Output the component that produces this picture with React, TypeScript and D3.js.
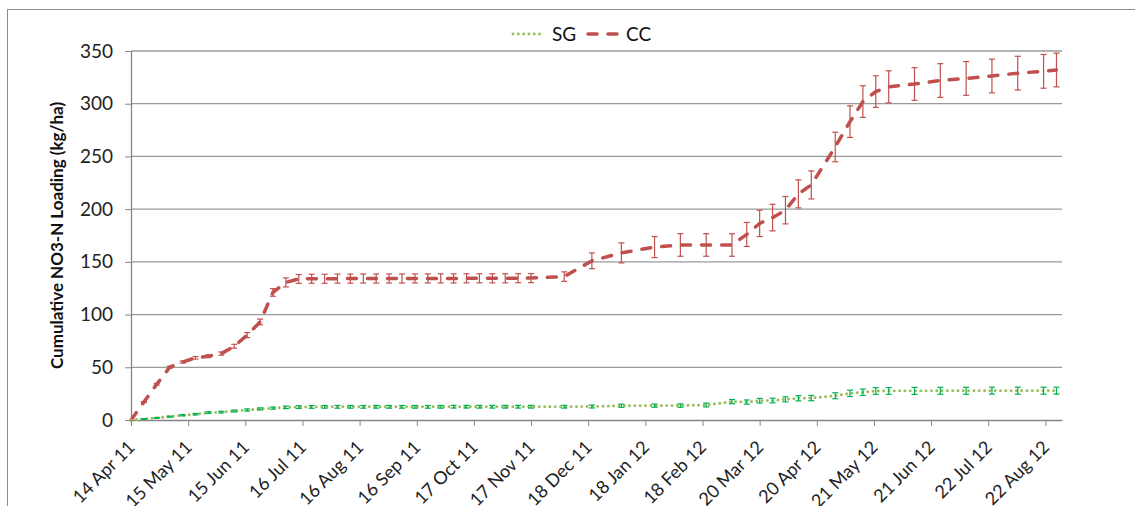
import React, { useEffect, useRef } from 'react'
import * as d3 from 'd3'

// sampling dates (weekly in 2011, sparser later)
const dates = [
  '2011-04-14', '2011-04-21', '2011-04-28', '2011-05-05', '2011-05-12', '2011-05-19', '2011-05-26',
  '2011-06-02', '2011-06-09', '2011-06-16', '2011-06-23', '2011-06-30', '2011-07-07', '2011-07-14',
  '2011-07-21', '2011-07-28', '2011-08-04', '2011-08-11', '2011-08-18', '2011-08-25', '2011-09-01',
  '2011-09-08', '2011-09-15', '2011-09-22', '2011-09-29', '2011-10-06', '2011-10-13', '2011-10-20',
  '2011-10-27', '2011-11-03', '2011-11-10', '2011-11-17', '2011-12-05', '2011-12-20', '2012-01-05',
  '2012-01-23', '2012-02-06', '2012-02-20', '2012-03-05', '2012-03-13', '2012-03-20', '2012-03-27',
  '2012-04-03', '2012-04-10', '2012-04-17', '2012-04-30', '2012-05-08', '2012-05-15', '2012-05-22',
  '2012-05-29', '2012-06-12', '2012-06-26', '2012-07-10', '2012-07-24', '2012-08-07', '2012-08-21',
  '2012-08-28'
]

const ccValues = [
  0, 17, 34, 50, 55, 59, 60.5,
  63, 70, 80.5, 93, 121, 130.5, 133.8,
  134, 134, 134.1, 134.1, 134.2, 134.2, 134.2,
  134.2, 134.3, 134.3, 134.3, 134.3, 134.4, 134.4,
  134.4, 134.4, 134.5, 134.6, 136, 151, 158.5,
  164, 166, 166, 166, 176, 186.5, 192,
  199, 214.5, 223, 259, 283, 302, 311.5,
  316, 318.7, 322, 324, 326.3, 329, 330.7,
  332
]

const ccErrors = [
  0, 0.5, 0.8, 1, 1, 1.2, 1.3,
  1.5, 1.8, 2.4, 2.7, 3.6, 4.3, 4.2,
  4.3, 4.3, 4.3, 4.3, 4.3, 4.3, 4.3,
  4.3, 4.3, 4.3, 4.3, 4.3, 4.3, 4.3,
  4.3, 4.3, 4.3, 4.3, 4.5, 7.5, 9.5,
  10, 10.7, 10.7, 10.7, 11.4, 12.5, 12.6,
  13, 13.3, 13.3, 14, 15, 15, 15,
  15.2, 15.5, 16, 16, 16, 16, 16,
  16
]

const sgValues = [
  0, 1, 2, 3.2, 4.5, 5.5, 7,
  7.5, 8.5, 9.5, 10.5, 11.3, 12, 12.3,
  12.4, 12.5, 12.5, 12.5, 12.5, 12.5, 12.5,
  12.5, 12.5, 12.5, 12.5, 12.6, 12.6, 12.6,
  12.6, 12.6, 12.6, 12.6, 12.6, 12.8, 13.5,
  13.6, 13.7, 14.2, 17.4, 17, 18.3, 18.5,
  19.6, 20.6, 20.8, 23, 25.3, 26.3, 27.5,
  27.6, 27.6, 27.7, 27.7, 27.8, 27.8, 27.8,
  27.8
]

const sgErrors = [
  0, 0.3, 0.4, 0.5, 0.6, 0.7, 0.8,
  0.8, 0.9, 1, 1, 1, 1.2, 1.3,
  1.3, 1.3, 1.3, 1.3, 1.3, 1.3, 1.3,
  1.3, 1.3, 1.3, 1.3, 1.3, 1.3, 1.3,
  1.3, 1.3, 1.3, 1.3, 1.3, 1.4, 1.5,
  1.5, 1.6, 1.8, 2, 2, 2.2, 2.2,
  2.4, 2.5, 2.5, 2.8, 3, 3, 3.2,
  3.2, 3.3, 3.3, 3.3, 3.3, 3.3, 3.3,
  3.3
]

const tickDates = [
  '2011-04-14', '2011-05-15', '2011-06-15', '2011-07-16', '2011-08-16', '2011-09-16',
  '2011-10-17', '2011-11-17', '2011-12-18', '2012-01-18', '2012-02-18', '2012-03-20',
  '2012-04-20', '2012-05-21', '2012-06-21', '2012-07-22', '2012-08-22'
]

const yTicks = [0, 50, 100, 150, 200, 250, 300, 350]

const axisStart = '2011-04-14'
const axisEnd = '2012-08-31'

const yTitle = 'Cumulative NO3-N Loading (kg/ha)'


const App = () => {

  const svgRef = useRef<SVGSVGElement>(null)

  useEffect(() => {
    draw()
  }, [])

  const draw = () => {
    const parse = d3.utcParse('%Y-%m-%d')
    const fmt = d3.utcFormat('%-d %b %y')
    const font = 'Lato, "Open Sans", sans-serif'

    const svg = d3.select(svgRef.current)
    svg.selectAll('*').remove()

    const left = 131, right = 1062, top = 51, bottom = 420

    const x = d3.scaleUtc()
      .domain([parse(axisStart) as Date, parse(axisEnd) as Date])
      .range([left, right])

    const y = d3.scaleLinear()
      .domain([0, 350])
      .range([bottom, top])

    // outer chart frame
    svg.append('rect')
      .attr('x', 7.5)
      .attr('y', 9.5)
      .attr('width', 1200)
      .attr('height', 600)
      .attr('fill', 'none')
      .attr('stroke', '#8c8c8c')
      .attr('stroke-width', 1)

    // gridlines
    svg.append('g')
      .selectAll('line')
      .data(yTicks.filter(d => d > 0))
      .enter().append('line')
      .attr('x1', left)
      .attr('x2', right)
      .attr('y1', d => y(d))
      .attr('y2', d => y(d))
      .attr('stroke', '#9a9a9a')
      .attr('stroke-width', 1.3)

    // y axis
    const yAxis = svg.append('g')
      .attr('transform', `translate(${left},0)`)
      .call(d3.axisLeft(y).tickValues(yTicks).tickSize(6).tickPadding(12).tickSizeOuter(0))
    yAxis.select('.domain').attr('stroke', '#868686').attr('stroke-width', 1.3)
    yAxis.selectAll('.tick line').attr('stroke', '#868686')
    yAxis.selectAll('text')
      .attr('font-family', font)
      .attr('font-size', 19)
      .attr('fill', '#222')

    // x axis
    const xAxis = svg.append('g')
      .attr('transform', `translate(0,${bottom})`)
      .call(d3.axisBottom(x)
        .tickValues(tickDates.map(d => parse(d) as Date))
        .tickFormat(d => fmt(d as Date))
        .tickSize(6)
        .tickSizeOuter(0))
    xAxis.select('.domain').attr('stroke', '#868686').attr('stroke-width', 1.3)
    xAxis.selectAll('.tick line').attr('stroke', '#868686')
    xAxis.selectAll('text')
      .attr('font-family', font)
      .attr('font-size', 18)
      .attr('fill', '#222')
      .attr('x', 0)
      .attr('y', 0)
      .attr('dy', '0.35em')
      .attr('text-anchor', 'end')
      .attr('transform', 'translate(0,24) rotate(-45)')

    // y title
    svg.append('text')
      .attr('transform', `translate(57,${(top + bottom) / 2}) rotate(-90)`)
      .attr('text-anchor', 'middle')
      .attr('dy', '0.35em')
      .attr('font-family', font)
      .attr('font-weight', 'bold')
      .attr('font-size', 17)
      .attr('fill', '#111')
      .text(yTitle)

    const cc = dates.map((d, i) => ({ date: parse(d) as Date, v: ccValues[i], e: ccErrors[i] }))
    const sg = dates.map((d, i) => ({ date: parse(d) as Date, v: sgValues[i], e: sgErrors[i] }))

    const line = d3.line<{ date: Date, v: number }>()
      .x(d => x(d.date))
      .y(d => y(d.v))

    const errorBars = (data: { date: Date, v: number, e: number }[], color: string, width: number) => {
      const g = svg.append('g')
        .attr('stroke', color)
        .attr('stroke-width', width)
      const items = g.selectAll('g')
        .data(data.filter(d => d.e > 0))
        .enter().append('g')
      items.append('line')
        .attr('x1', d => x(d.date)).attr('x2', d => x(d.date))
        .attr('y1', d => y(d.v - d.e)).attr('y2', d => y(d.v + d.e))
      items.append('line')
        .attr('x1', d => x(d.date) - 3).attr('x2', d => x(d.date) + 3)
        .attr('y1', d => y(d.v - d.e)).attr('y2', d => y(d.v - d.e))
      items.append('line')
        .attr('x1', d => x(d.date) - 3).attr('x2', d => x(d.date) + 3)
        .attr('y1', d => y(d.v + d.e)).attr('y2', d => y(d.v + d.e))
    }

    // CC series
    svg.append('path')
      .datum(cc)
      .attr('d', line)
      .attr('fill', 'none')
      .attr('stroke', '#C0504D')
      .attr('stroke-width', 3.5)
      .attr('stroke-dasharray', '9,11')
      .attr('stroke-linecap', 'round')
    errorBars(cc, '#C0504D', 1.2)

    // SG series
    svg.append('path')
      .datum(sg)
      .attr('d', line)
      .attr('fill', 'none')
      .attr('stroke', '#9BBB59')
      .attr('stroke-width', 2.9)
      .attr('stroke-dasharray', '0.01,5.3')
      .attr('stroke-linecap', 'round')
    errorBars(sg, '#00B050', 1.2)

    // legend
    const legend = svg.append('g')
    legend.append('line')
      .attr('x1', 513).attr('x2', 544).attr('y1', 34).attr('y2', 34)
      .attr('stroke', '#9BBB59').attr('stroke-width', 2.9)
      .attr('stroke-dasharray', '0.01,5.3').attr('stroke-linecap', 'round')
    legend.append('line')
      .attr('x1', 588).attr('x2', 618).attr('y1', 34).attr('y2', 34)
      .attr('stroke', '#C0504D').attr('stroke-width', 3.5)
      .attr('stroke-dasharray', '9,11').attr('stroke-linecap', 'round')
    legend.selectAll('text')
      .data(['SG', 'CC'])
      .enter().append('text')
      .attr('x', (d, i) => i === 0 ? 552 : 626)
      .attr('y', 34)
      .attr('dy', '0.35em')
      .attr('font-family', font)
      .attr('font-size', 19)
      .attr('fill', '#111')
      .text(d => d)
  }

  return (
    <svg
      ref={svgRef}
      width={1135}
      height={506}
      style={{ position: 'absolute', left: 0, top: 0, background: '#fff' }}
    />
  )
}

export default App
